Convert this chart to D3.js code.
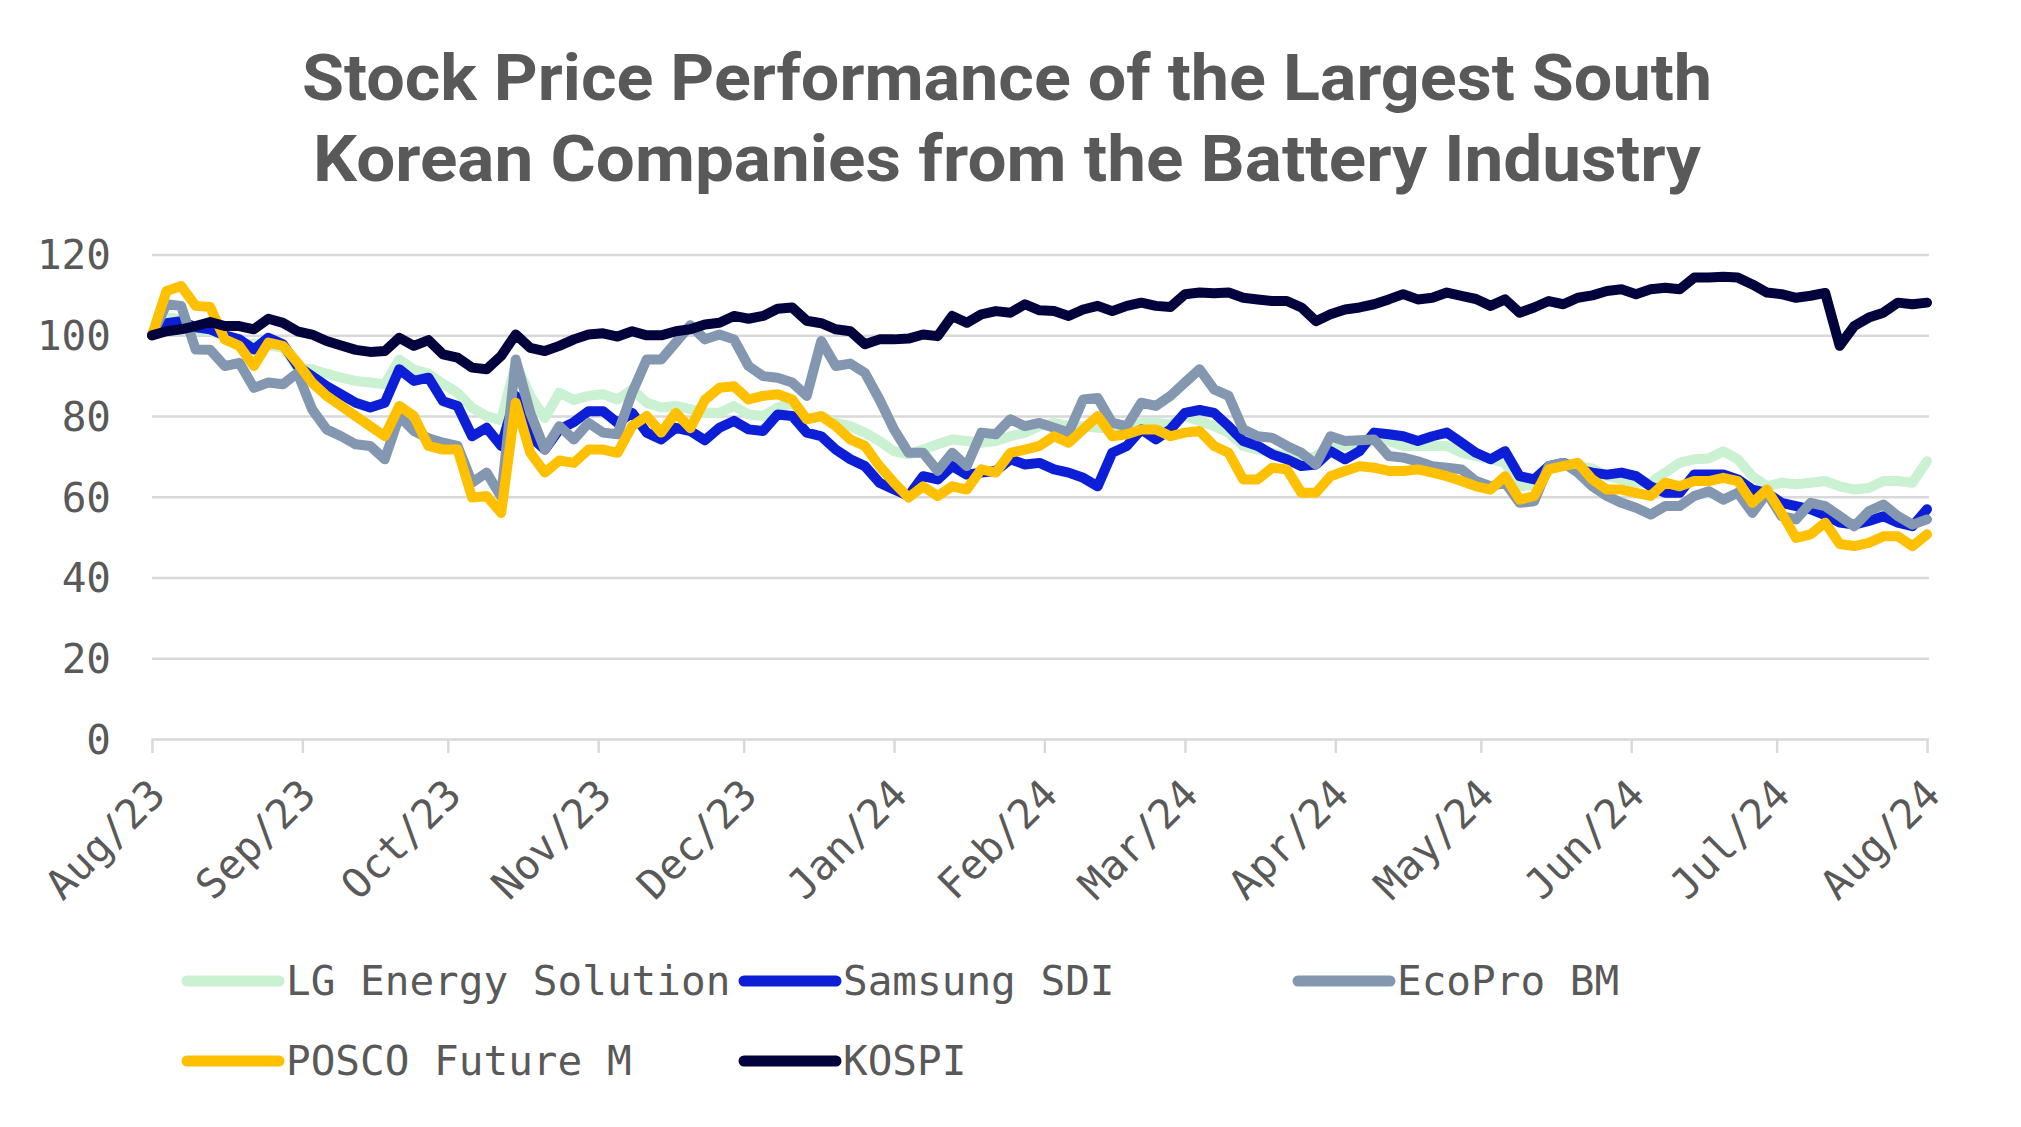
<!DOCTYPE html>
<html><head><meta charset="utf-8">
<script src="https://cdn.jsdelivr.net/npm/d3@7"></script>
<style>body{margin:0;background:#fff;} svg{display:block;}</style>
</head><body>
<svg id="chart" width="2021" height="1127"></svg>
<script>
// ---------- DATA ----------
const titleLines = ["Stock Price Performance of the Largest South", "Korean Companies from the Battery Industry"];
const seriesNames = ["LG Energy Solution", "Samsung SDI", "EcoPro BM", "POSCO Future M", "KOSPI"];
const seriesColors = ["#c9f1d2", "#0c1ed6", "#8497b0", "#ffc000", "#02023c"];
const yTicks = [0, 20, 40, 60, 80, 100, 120];
const monthTicks = ["2023-08-01","2023-09-01","2023-10-01","2023-11-01","2023-12-01","2024-01-01","2024-02-01","2024-03-01","2024-04-01","2024-05-01","2024-06-01","2024-07-01","2024-08-01"];

const dates = (
 "2023-08-01 2023-08-04 2023-08-07 2023-08-10 2023-08-13 2023-08-16 2023-08-19 2023-08-22 2023-08-25 2023-08-28 2023-08-31 " +
 "2023-09-03 2023-09-06 2023-09-09 2023-09-12 2023-09-15 2023-09-18 2023-09-21 2023-09-24 2023-09-27 2023-09-30 " +
 "2023-10-03 2023-10-06 2023-10-09 2023-10-12 2023-10-15 2023-10-18 2023-10-21 2023-10-24 2023-10-27 2023-10-30 " +
 "2023-11-02 2023-11-05 2023-11-08 2023-11-11 2023-11-14 2023-11-17 2023-11-20 2023-11-23 2023-11-26 2023-11-29 " +
 "2023-12-02 2023-12-05 2023-12-08 2023-12-11 2023-12-14 2023-12-17 2023-12-20 2023-12-23 2023-12-26 2023-12-29 " +
 "2024-01-01 2024-01-04 2024-01-07 2024-01-10 2024-01-13 2024-01-16 2024-01-19 2024-01-22 2024-01-25 2024-01-28 2024-01-31 " +
 "2024-02-03 2024-02-06 2024-02-09 2024-02-12 2024-02-15 2024-02-18 2024-02-21 2024-02-24 2024-02-27 " +
 "2024-03-01 2024-03-04 2024-03-07 2024-03-10 2024-03-13 2024-03-16 2024-03-19 2024-03-22 2024-03-25 2024-03-28 2024-03-31 " +
 "2024-04-03 2024-04-06 2024-04-09 2024-04-12 2024-04-15 2024-04-18 2024-04-21 2024-04-24 2024-04-27 2024-04-30 " +
 "2024-05-03 2024-05-06 2024-05-09 2024-05-12 2024-05-15 2024-05-18 2024-05-21 2024-05-24 2024-05-27 2024-05-30 " +
 "2024-06-02 2024-06-05 2024-06-08 2024-06-11 2024-06-14 2024-06-17 2024-06-20 2024-06-23 2024-06-26 2024-06-29 " +
 "2024-07-02 2024-07-05 2024-07-08 2024-07-11 2024-07-14 2024-07-17 2024-07-20 2024-07-23 2024-07-26 2024-07-29 " +
 "2024-08-01").split(" ");

const lgEnergySolution = [
 100,104.4,104,101.5,101,100,97.4,98,97.5,97,92,91.6,90.5,89.5,88.7,88.3,87.9,94,91.5,90.5,88,85.8,82,80,79,93,85,79.5,85.8,84,85,
 85.4,84.1,86.6,83.3,82.1,82.5,81.7,80.8,80.8,82.5,80.4,80,82.1,83.3,79.2,80,78.3,77.5,75.9,73.8,71.3,70.5,71.7,73,74.2,73.8,73.4,73.8,75,75.9,
 77.5,78.3,77.5,77.5,77.1,77,77,78.3,78.3,78,80,78.8,77.5,75.9,72.6,71.7,70.9,70.1,69.3,70,73,72.6,73.4,73.8,73.8,72.6,72.6,72.6,72.6,70.9,
 70.1,69.3,68.4,62.6,63,66.8,68.4,67.6,67,65.1,64.3,63.5,63.5,66,68.4,69.3,69.5,71.3,69.3,65.1,62.6,63.5,63.1,63.5,63.9,62.6,61.8,62.2,63.9,63.9,63.5,68.8];

const samsungSDI = [
 100,103,103.5,102,101.5,100,99,96.5,99.4,97.8,92.4,89.9,87.4,85.4,83.3,82.1,83.3,91.6,88.7,89.5,83.7,82.5,75,77.1,72.6,85,75,71.7,76.7,78.5,81.2,
 81.2,78.3,80.8,75.9,74.2,77.1,76.3,74,77.1,78.8,76.7,76.3,80.4,80,75.9,75,71.7,69.3,67.6,63.5,61.8,60.2,65.1,64.3,67.6,65.5,66,66.4,69.3,68,
 68.4,66.8,66,64.7,62.6,70.9,72.6,76.7,74.2,76.7,80.8,81.5,80.8,77.5,73.8,72.6,70.5,69.3,67.6,68,71.3,69.3,71.3,75.9,75.5,75,73.8,75,75.9,73.4,
 70.9,69.3,71.3,65.1,64.3,67.6,68.4,66.8,66,65.5,66,65.1,62.6,61,61,65.5,65.5,65.5,64.3,61.8,61,58.5,57.7,56.9,55.5,53.6,53.1,54,55.2,53.6,52.7,56.9];

const ecoProBM = [
 100,107.7,107.3,96.5,96.4,92.4,93.2,87,88.3,87.9,90.7,81.7,76.7,75,73,72.6,69.3,80,76.3,74.5,73.4,72.6,63.5,66,60,94,80.8,71.7,77.5,74.2,78.3,
 75.9,75.5,85.8,94,94,98.2,102.5,99,100.2,99,92.4,89.9,89.5,88.3,85,98.6,92.4,93,90.7,84.1,76.7,70.9,70.9,66.4,70.9,67.6,75.9,75.5,79.2,77.5,
 78.3,77.1,75.9,84.1,84.5,78.3,77.5,83.3,82.5,85,88.3,91.6,86.6,85,76.7,75,74.6,72.6,70.9,68,75,73.8,74,74.2,70.1,69.7,68.8,67.6,67.2,66.8,
 63.9,62.6,63.5,58.5,58.9,67.6,68.4,66,62.6,60.2,58.5,57.3,55.6,57.7,57.7,60.2,61.4,59.3,61,56,61,55.2,54.4,58.5,57.7,55.2,52.7,56.4,58.1,55.2,53.1,54.4];

const poscoFutureM = [
 100,111,112.2,107.3,107,99,97.4,92.4,98.2,97.4,93.2,88.3,85,82.5,80,77.5,75,82.5,80,72.6,71.7,71.7,59.8,60.2,56,83.3,70.9,66,69,68.4,71.7,
 71.7,70.9,77.5,80,75.9,80.8,77,84,87,87.4,84.1,85,85.4,84.1,79.2,80,77.5,74.2,72.6,67.6,63.5,59.8,62.6,60.2,62.6,61.8,66.8,66,70.9,71.7,
 72.6,75,73.4,76.7,80,75,75.5,76.7,76.7,75,75.9,76.3,72.6,70.9,64.3,64.3,67.2,66.8,61,61,65.1,66.4,67.6,67.2,66.4,66.4,66.8,66,65.1,63.9,
 62.6,61.8,65.1,59.3,60.2,66.8,67.6,68.4,64.3,61.8,61.8,61,60.2,63.5,62.6,63.9,63.9,64.7,63.9,58.5,61.8,56,49.8,50.7,53.6,48.3,47.8,48.6,50.2,50.2,47.8,50.7];

const kospi = [
 100,101,101.5,102.3,103.3,102.3,102.3,101.5,104.1,103.1,101,100.2,98.6,97.5,96.4,95.9,96.1,99.4,97.4,98.8,95.3,94.5,92,91.6,94.9,100.2,96.9,96.1,97.4,99,100.2,
 100.5,99.7,101,100,100,101,101.5,102.7,103.1,104.8,104.1,104.8,106.6,106.9,103.6,103,101.5,101,97.8,99,99,99.2,100.2,99.8,104.8,103.1,105.2,106,105.6,107.7,
 106.2,106,104.8,106.4,107.3,106,107.3,108.1,107.3,107,110.2,110.6,110.4,110.6,109.3,108.9,108.5,108.5,106.9,103.5,105.2,106.4,106.9,107.7,108.9,110.2,108.9,109.3,110.6,109.8,
 109,107.3,108.9,105.6,106.9,108.5,107.7,109.3,109.9,111,111.4,110.2,111.4,111.8,111.4,114.3,114.3,114.5,114.3,112.6,110.6,110.2,109.3,109.8,110.5,97.4,102.3,104.4,105.6,108.1,107.7,108.1];

const seriesValues = [lgEnergySolution, samsungSDI, ecoProBM, poscoFutureM, kospi];

// ---------- CHART ----------
const svg = d3.select("#chart");
svg.append("rect").attr("width", 2021).attr("height", 1127).attr("fill", "#fff");
const parse = d3.timeParse("%Y-%m-%d");
const dateObjs = dates.map(parse);
const tickDates = monthTicks.map(parse);

const x = d3.scaleTime().domain([tickDates[0], tickDates[tickDates.length - 1]]).range([152, 1927]);
const y = d3.scaleLinear().domain([0, 120]).range([739, 254.6]);

const txtColor = "#595959";
const monoFont = "'DejaVu Sans Mono', 'Liberation Mono', monospace";

// title
const titleY = [100, 181];
const titleW = [1410, 1388];
svg.selectAll("text.title").data(titleLines).join("text")
  .attr("class", "title")
  .attr("x", 1007).attr("y", (d, i) => titleY[i])
  .attr("text-anchor", "middle")
  .attr("textLength", (d, i) => titleW[i])
  .attr("lengthAdjust", "spacingAndGlyphs")
  .style("font-family", "Roboto, 'DejaVu Sans', sans-serif")
  .style("font-weight", 700)
  .style("font-size", "64px")
  .style("fill", txtColor)
  .text(d => d);

// y axis + gridlines
const yAxis = svg.append("g").attr("transform", "translate(152,0)")
  .call(d3.axisLeft(y).tickValues(yTicks).tickSize(-1777).tickPadding(41).tickFormat(d3.format("d")));
yAxis.select(".domain").remove();
yAxis.selectAll(".tick line").attr("stroke", "#d9d9d9").attr("stroke-width", 2.5);
yAxis.selectAll(".tick text")
  .style("font-family", monoFont).style("font-size", "41px").style("fill", txtColor)
  .attr("dy", "0.35em");

// x axis
const xAxis = svg.append("g").attr("transform", `translate(0,${y(0)})`)
  .call(d3.axisBottom(x).tickValues(tickDates).tickSize(14).tickFormat(d3.timeFormat("%b/%y")));
xAxis.select(".domain").remove();
xAxis.selectAll(".tick line").attr("stroke", "#d9d9d9").attr("stroke-width", 2.5);
xAxis.selectAll(".tick text")
  .attr("y", 0).attr("dy", 0)
  .attr("transform", "translate(15,58) rotate(-45)")
  .attr("text-anchor", "end")
  .style("font-family", monoFont).style("font-size", "41px").style("fill", txtColor);

// lines
const line = d3.line().x((d, i) => x(dateObjs[i])).y(d => y(d));
svg.append("g").selectAll("path").data(seriesValues).join("path")
  .attr("d", d => line(d))
  .attr("fill", "none")
  .attr("stroke", (d, i) => seriesColors[i])
  .attr("stroke-width", 10)
  .attr("stroke-linejoin", "round")
  .attr("stroke-linecap", "round");

// legend
const legPos = [[187, 981], [744, 981], [1298, 981], [187, 1061], [744, 1061]];
const leg = svg.append("g").selectAll("g").data(seriesNames).join("g")
  .attr("transform", (d, i) => `translate(${legPos[i][0]},${legPos[i][1]})`);
leg.append("line").attr("x1", 0).attr("x2", 92).attr("y1", 0).attr("y2", 0)
  .attr("stroke", (d, i) => seriesColors[i]).attr("stroke-width", 11).attr("stroke-linecap", "round");
leg.append("text").attr("x", 99).attr("y", 0).attr("dy", "0.35em")
  .style("font-family", monoFont).style("font-size", "41px").style("fill", txtColor)
  .text(d => d);
</script>
</body></html>
